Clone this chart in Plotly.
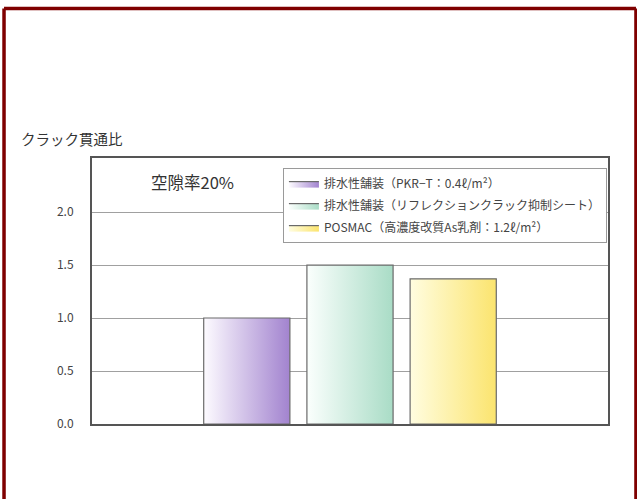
import plotly.graph_objects as go

# Crack penetration ratio at 20% void ratio
categories = [
    "排水性舗装（PKR−T：0.4ℓ/m²）",
    "排水性舗装（リフレクションクラック抑制シート）",
    "POSMAC（高濃度改質As乳剤：1.2ℓ/m²）",
]
values = [1.00, 1.50, 1.37]
y_ticks = [0.0, 0.5, 1.0, 1.5, 2.0]
y_tick_labels = ["0.0", "0.5", "1.0", "1.5", "2.0"]

# horizontal gradient (light left -> saturated right) for each bar
gradients = [
    ["#fdfbff", "#a283cf"],
    ["#fbfffd", "#a9dcc6"],
    ["#fffde0", "#fbe46e"],
]

FONT = "Noto Sans CJK JP"
TEXT = "#444444"
BAR_WIDTH = 0.835

fig = go.Figure()
for i, (name, val, (c0, c1)) in enumerate(zip(categories, values, gradients)):
    left, right = i - BAR_WIDTH / 2, i + BAR_WIDTH / 2
    fig.add_trace(go.Scatter(
        x=[left, left, right, right, left],
        y=[0, val, val, 0, 0],
        mode="lines",
        fill="toself",
        fillgradient=dict(type="horizontal", colorscale=[[0, c0], [1, c1]]),
        line=dict(color="#6a6a6a", width=1.2),
        name=name,
        legendgroup=f"g{i}",
        hoverinfo="skip",
    ))

fig.update_layout(
    template="none",
    width=637,
    height=499,
    margin=dict(l=92, r=29, t=158, b=75),
    paper_bgcolor="white",
    plot_bgcolor="white",
    font=dict(family=FONT, color=TEXT),
    showlegend=True,
    legend=dict(
        x=0.37, y=0.962, xanchor="left", yanchor="top",
        bgcolor="white", bordercolor="#9a9a9a", borderwidth=1,
        font=dict(size=12, color=TEXT, family=FONT),
        tracegroupgap=3,
        itemclick=False,
    ),
    xaxis=dict(
        range=[-1.5, 3.5],
        showgrid=False, zeroline=False,
        showticklabels=False, ticks="",
        showline=True, linecolor="#555", linewidth=2, mirror=True,
        fixedrange=True,
    ),
    yaxis=dict(
        range=[0, 2.51],
        tickvals=y_ticks, ticktext=y_tick_labels,
        tickfont=dict(size=12, color=TEXT, family=FONT),
        ticks="", ticklabelstandoff=14,
        showgrid=True, gridcolor="#a0a0a0", gridwidth=1.2,
        zeroline=False,
        showline=True, linecolor="#555", linewidth=2, mirror=True,
        fixedrange=True,
    ),
    annotations=[
        dict(text="クラック貫通比", xref="paper", yref="paper",
             x=-0.142, y=1.072, xanchor="left", yanchor="middle",
             showarrow=False, font=dict(size=14.5, color="#333", family=FONT)),
        dict(text="空隙率20%", xref="paper", yref="paper",
             x=0.195, y=0.91, xanchor="center", yanchor="middle",
             showarrow=False, font=dict(size=16.5, color="#333", family=FONT)),
    ],
    shapes=[
        # dark red page frame (open at the bottom)
        dict(type="line", xref="paper", yref="paper",
             x0=-0.1705, x1=-0.1705, y0=1.562, y1=-0.32,
             line=dict(color="#7f0000", width=3.5)),
        dict(type="line", xref="paper", yref="paper",
             x0=1.0542, x1=1.0542, y0=1.562, y1=-0.32,
             line=dict(color="#7f0000", width=3.5)),
        dict(type="line", xref="paper", yref="paper",
             x0=-0.1705, x1=1.0542, y0=1.562, y1=1.562,
             line=dict(color="#7f0000", width=3.5)),
    ],
)

fig.write_html("out.html")
